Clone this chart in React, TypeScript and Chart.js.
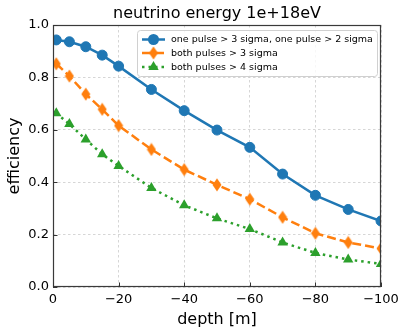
import React, { useEffect, useRef } from 'react';
import { Chart, registerables } from 'chart.js';

Chart.register(...registerables);

const TITLE = 'neutrino energy 1e+18eV';
const X_LABEL = 'depth [m]';
const Y_LABEL = 'efficiency';

const depths = [-1, -5, -10, -15, -20, -30, -40, -50, -60, -70, -80, -90, -100];
const seriesNames = [
  'one pulse > 3 sigma, one pulse > 2 sigma',
  'both pulses > 3 sigma',
  'both pulses > 4 sigma',
];
const onePulseVals = [0.943, 0.936, 0.917, 0.885, 0.843, 0.754, 0.673, 0.599, 0.533, 0.431, 0.35, 0.296, 0.252];
const both3Vals = [0.852, 0.805, 0.736, 0.678, 0.616, 0.525, 0.448, 0.39, 0.335, 0.266, 0.205, 0.17, 0.147];
const both4Vals = [0.663, 0.622, 0.563, 0.507, 0.462, 0.378, 0.312, 0.262, 0.221, 0.17, 0.13, 0.105, 0.088];
const xTickValues = [0, -20, -40, -60, -80, -100];
const yTickValues = [0, 0.2, 0.4, 0.6, 0.8, 1.0];

const FONT = "'DejaVu Sans', sans-serif";
const BLUE = '#1f77b4';
const ORANGE = '#ff7f0e';
const GREEN = '#2ca02c';

function makeDiamond(color: string): HTMLCanvasElement {
  const c = document.createElement('canvas');
  c.width = 10;
  c.height = 14;
  const g = c.getContext('2d')!;
  g.fillStyle = color;
  g.beginPath();
  g.moveTo(5, 0.5);
  g.lineTo(9.5, 7);
  g.lineTo(5, 13.5);
  g.lineTo(0.5, 7);
  g.closePath();
  g.fill();
  return c;
}

function drawMarker(ctx: CanvasRenderingContext2D, kind: string, x: number, y: number, color: string, img?: HTMLCanvasElement) {
  ctx.save();
  ctx.fillStyle = color;
  ctx.beginPath();
  if (kind === 'circle') {
    ctx.arc(x, y, 5.5, 0, Math.PI * 2);
    ctx.fill();
  } else if (kind === 'triangle') {
    const r = 6;
    ctx.moveTo(x, y - r);
    ctx.lineTo(x + r * Math.sin(Math.PI / 3), y + r / 2);
    ctx.lineTo(x - r * Math.sin(Math.PI / 3), y + r / 2);
    ctx.closePath();
    ctx.fill();
  } else if (img) {
    ctx.drawImage(img, x - img.width / 2, y - img.height / 2);
  }
  ctx.restore();
}

export default function App() {
  const ref = useRef<HTMLCanvasElement>(null);

  useEffect(() => {
    const canvas = ref.current!;
    const diamond = makeDiamond(ORANGE);

    const styles = [
      { color: BLUE, dash: [] as number[], marker: 'circle' },
      { color: ORANGE, dash: [9, 4], marker: 'diamond' },
      { color: GREEN, dash: [2.5, 4], marker: 'triangle' },
    ];

    const overlay = {
      id: 'overlay',
      afterDraw(chart: any) {
        const ctx: CanvasRenderingContext2D = chart.ctx;
        const a = chart.chartArea;
        const xs = chart.scales.x;
        const ys = chart.scales.y;
        ctx.save();
        ctx.setLineDash([]);
        // frame
        ctx.strokeStyle = '#3a3a3a';
        ctx.lineWidth = 1.2;
        ctx.strokeRect(Math.round(a.left) + 0.5, Math.round(a.top) + 0.5, Math.round(a.right - a.left) - 1, Math.round(a.bottom - a.top) - 1);
        // inward ticks on left and bottom
        ctx.lineWidth = 1;
        ctx.strokeStyle = '#333';
        ctx.beginPath();
        yTickValues.forEach((v) => {
          const py = Math.round(ys.getPixelForValue(v)) + 0.5;
          ctx.moveTo(a.left, py);
          ctx.lineTo(a.left + 4.5, py);
        });
        xTickValues.forEach((v) => {
          const px = Math.round(xs.getPixelForValue(v)) + 0.5;
          ctx.moveTo(px, a.bottom);
          ctx.lineTo(px, a.bottom - 4.5);
        });
        ctx.stroke();

        // title
        ctx.fillStyle = '#000';
        ctx.textAlign = 'center';
        ctx.textBaseline = 'middle';
        ctx.font = `16px ${FONT}`;
        ctx.fillText(TITLE, (a.left + a.right) / 2, 14);
        // x label
        ctx.fillText(X_LABEL, (a.left + a.right) / 2, 320);
        // y label
        ctx.save();
        ctx.translate(15, (a.top + a.bottom) / 2);
        ctx.rotate(-Math.PI / 2);
        ctx.fillText(Y_LABEL, 0, 0);
        ctx.restore();

        // legend
        const bx = 137, by = 30, bw = 240, bh = 46;
        ctx.fillStyle = 'rgba(255,255,255,0.8)';
        ctx.strokeStyle = '#d0d0d0';
        ctx.lineWidth = 1;
        ctx.beginPath();
        (ctx as any).roundRect(bx + 0.5, by + 0.5, bw, bh, 3);
        ctx.fill();
        ctx.stroke();
        const rowsY = [39.5, 53, 67];
        ctx.font = `9.5px ${FONT}`;
        ctx.textAlign = 'left';
        ctx.textBaseline = 'middle';
        seriesNames.forEach((name, i) => {
          const s = styles[i];
          const y = rowsY[i];
          ctx.strokeStyle = s.color;
          ctx.lineWidth = 2.5;
          ctx.setLineDash(s.dash);
          ctx.beginPath();
          ctx.moveTo(142, y);
          ctx.lineTo(165, y);
          ctx.stroke();
          ctx.setLineDash([]);
          drawMarker(ctx, s.marker, 153.5, y, s.color, diamond);
          ctx.fillStyle = '#000';
          ctx.fillText(name, 171, y + 0.5);
        });
        ctx.restore();
      },
    };

    const mk = (i: number, data: number[]) => {
      const s = styles[i];
      return {
        label: seriesNames[i],
        data: depths.map((d, k) => ({ x: d, y: data[k] })),
        borderColor: s.color,
        backgroundColor: s.color,
        borderWidth: 2.5,
        borderDash: s.dash,
        pointStyle: s.marker === 'diamond' ? diamond : s.marker,
        pointRadius: s.marker === 'circle' ? 5 : 6,
        pointBorderWidth: s.marker === 'circle' ? 1 : 0,
        pointBackgroundColor: s.color,
        pointBorderColor: s.color,
        tension: 0,
        clip: 0,
      };
    };

    const gridCommon = {
      color: 'rgba(190,190,190,0.8)',
      lineWidth: 0.8,
      drawTicks: false,
    };
    const borderCommon = { display: false, dash: [2.5, 2.5] };

    const chart = new Chart(canvas, {
      type: 'line',
      data: {
        datasets: [mk(0, onePulseVals), mk(1, both3Vals), mk(2, both4Vals)],
      },
      options: {
        animation: false,
        responsive: false,
        layout: { padding: { top: 25, right: 26, left: 0, bottom: 0 } },
        plugins: { legend: { display: false }, title: { display: false }, tooltip: { enabled: false } },
        scales: {
          x: {
            type: 'linear',
            min: -100,
            max: 0,
            reverse: true,
            border: borderCommon,
            grid: gridCommon as any,
            ticks: {
              stepSize: 20,
              padding: 5,
              color: '#000',
              font: { family: FONT, size: 13 },
              maxRotation: 0,
              callback: (v: any) => (Number(v) === 0 ? '0' : '\u2212' + Math.abs(Number(v))),
            },
            afterFit: (s: any) => {
              s.height = 49;
            },
          },
          y: {
            type: 'linear',
            min: 0,
            max: 1,
            border: borderCommon,
            grid: gridCommon as any,
            ticks: {
              stepSize: 0.2,
              padding: 4,
              color: '#000',
              font: { family: FONT, size: 13 },
              callback: (v: any) => Number(v).toFixed(1),
            },
            afterFit: (s: any) => {
              s.width = 53;
            },
          },
        },
      },
      plugins: [overlay],
    } as any);

    return () => chart.destroy();
  }, []);

  return (
    <div style={{ position: 'fixed', left: 0, top: 0, width: 407, height: 336, background: '#fff' }}>
      <canvas ref={ref} width={407} height={336} style={{ display: 'block' }} />
    </div>
  );
}
